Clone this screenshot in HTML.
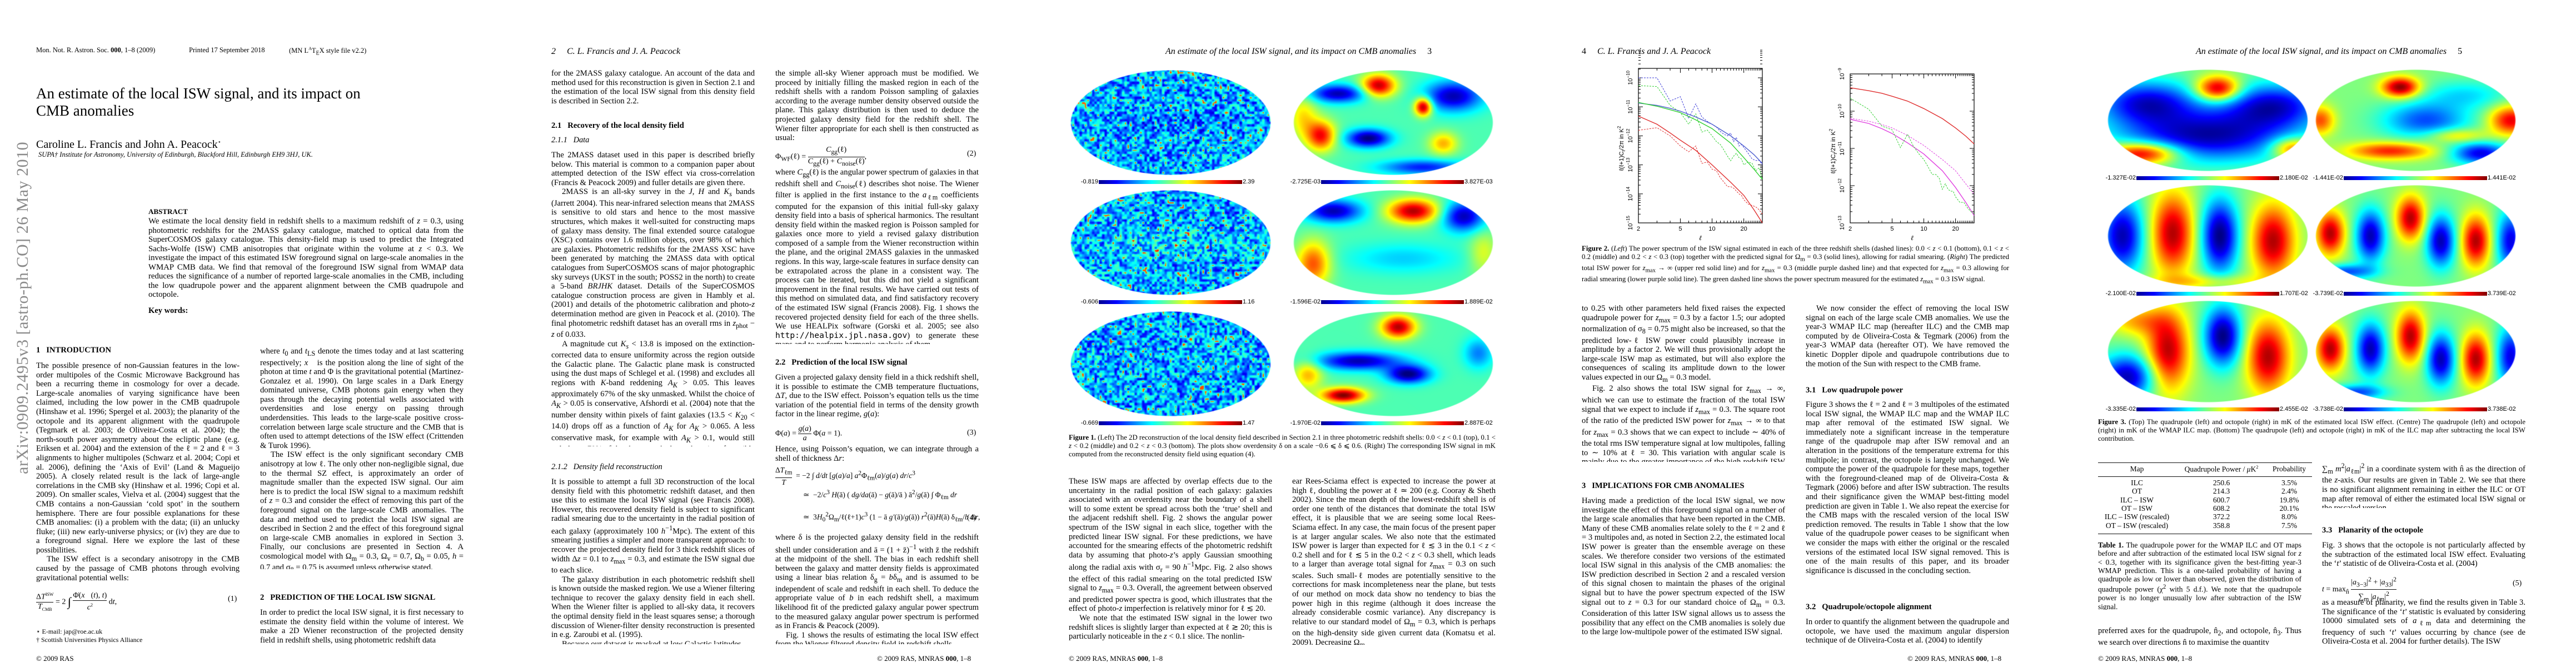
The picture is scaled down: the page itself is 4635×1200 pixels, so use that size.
<!DOCTYPE html>
<html><head><meta charset="utf-8">
<style>
body{margin:0;background:#fff;}
#strip{position:relative;width:4635px;height:1200px;overflow:hidden;background:#fff;color:#000;font-family:"Liberation Serif",serif;}
.pg{position:absolute;top:0;width:927px;height:1200px;}
.abs{position:absolute;white-space:nowrap;}
.col{position:absolute;width:366px;font-size:14.6px;line-height:16.6px;text-align:justify;overflow:hidden;hyphens:auto;}
.col p{margin:0;text-indent:1.3em;}
.col p.ni{text-indent:0;}
.head{position:absolute;font-style:italic;font-size:16px;white-space:nowrap;}
.sec{position:absolute;font-weight:bold;font-size:14.6px;white-space:nowrap;}
.sub{position:absolute;font-style:italic;font-size:14.4px;white-space:nowrap;}
.foot{position:absolute;font-size:13px;white-space:nowrap;}
.cap{position:absolute;font-size:12.8px;line-height:15.2px;text-align:justify;overflow:hidden;}
.bar{position:absolute;height:7px;background:linear-gradient(to right,#00008f,#0000ff 12%,#00ffff 37%,#ffff00 62%,#ff0000 87%,#800000);}
.bl{position:absolute;font-family:"Liberation Sans",sans-serif;font-size:11px;white-space:nowrap;line-height:12px;}
.eq{position:absolute;font-size:14px;white-space:nowrap;}
</style></head><body>
<div id="strip">

<!-- PAGE 1 -->
<div class="pg" style="left:0">
  <div class="abs" style="left:65px;top:83px;font-size:12.5px">Mon. Not. R. Astron. Soc. <b>000</b>, 1–8 (2009)</div>
  <div class="abs" style="left:340px;top:83px;font-size:12.5px">Printed 17 September 2018</div>
  <div class="abs" style="left:520px;top:83px;font-size:12.5px">(MN L<sup style="font-size:8px">A</sup>T<sub style="font-size:10px">E</sub>X style file v2.2)</div>
  <div class="abs" style="left:65px;top:153px;font-size:27px;line-height:31px">An estimate of the local ISW signal, and its impact on<br>CMB anomalies</div>
  <div class="abs" style="left:65px;top:249px;font-size:20px">Caroline L. Francis and John A. Peacock<sup style="font-size:10px">⋆</sup></div>
  <div class="abs" style="left:69px;top:271px;font-size:12.5px;font-style:italic">SUPA† Institute for Astronomy, University of Edinburgh, Blackford Hill, Edinburgh EH9 3HJ, UK.</div>
  <div class="abs" style="left:24px;top:853px;font-size:30px;color:#8a8a8a;transform:rotate(-90deg);transform-origin:0 0;letter-spacing:0.5px">arXiv:0909.2495v3  [astro-ph.CO]  26 May 2010</div>
  <div class="abs" style="left:267px;top:373px;font-size:13px;font-weight:bold">ABSTRACT</div>
  <div class="col" style="left:267px;top:390px;width:567px;height:150px;font-size:14.8px;line-height:16.5px"><p class="ni">We estimate the local density field in redshift shells to a maximum redshift of <i>z</i> = 0.3, using photometric redshifts for the 2MASS galaxy catalogue, matched to optical data from the SuperCOSMOS galaxy catalogue. This density-field map is used to predict the Integrated Sachs-Wolfe (ISW) CMB anisotropies that originate within the volume at <i>z</i> &lt; 0.3. We investigate the impact of this estimated ISW foreground signal on large-scale anomalies in the WMAP CMB data. We find that removal of the foreground ISW signal from WMAP data reduces the significance of a number of reported large-scale anomalies in the CMB, including the low quadrupole power and the apparent alignment between the CMB quadrupole and octopole.</p></div>
  <div class="abs" style="left:267px;top:551px;font-size:14.5px;font-weight:bold">Key words:</div>
  <div class="sec" style="left:65px;top:622px">1&nbsp;&nbsp;&nbsp;INTRODUCTION</div>
  <div class="col" style="left:65px;top:650px;height:400px"><p class="ni">The possible presence of non-Gaussian features in the low-order multipoles of the Cosmic Microwave Background has been a recurring theme in cosmology for over a decade. Large-scale anomalies of varying significance have been claimed, including the low power in the CMB quadrupole (Hinshaw et al. 1996; Spergel et al. 2003); the planarity of the octopole and its apparent alignment with the quadrupole (Tegmark et al. 2003; de Oliveira-Costa et al. 2004); the north-south power asymmetry about the ecliptic plane (e.g. Eriksen et al. 2004) and the extension of the ℓ = 2 and ℓ = 3 alignments to higher multipoles (Schwarz et al. 2004; Copi et al. 2006), defining the ‘Axis of Evil’ (Land &amp; Magueijo 2005). A closely related result is the lack of large-angle correlations in the CMB sky (Hinshaw et al. 1996; Copi et al. 2009). On smaller scales, Vielva et al. (2004) suggest that the CMB contains a non-Gaussian ‘cold spot’ in the southern hemisphere. There are four possible explanations for these CMB anomalies: (i) a problem with the data; (ii) an unlucky fluke; (iii) new early-universe physics; or (iv) they are due to a foreground signal. Here we explore the last of these possibilities.</p><p>The ISW effect is a secondary anisotropy in the CMB caused by the passage of CMB photons through evolving gravitational potential wells:</p></div>
  <div class="eq" style="left:65px;top:1062px"><span style="display:inline-block;text-align:center;vertical-align:middle;line-height:16px"><span style="border-bottom:1px solid #111;display:block">Δ<i>T</i><sup style="font-size:8px">ISW</sup></span><i>T</i><sub style="font-size:8px">CMB</sub></span> = 2 <span style="font-size:22px;vertical-align:middle">∫</span> <span style="display:inline-block;text-align:center;vertical-align:middle;line-height:16px"><span style="border-bottom:1px solid #111;display:block">Φ̇(<i>x⃗</i>(<i>t</i>), <i>t</i>)</span><i>c</i><sup style="font-size:8px">2</sup></span> d<i>t</i>,</div>
  <div class="eq" style="left:410px;top:1070px">(1)</div>
  <div class="abs" style="left:65px;top:1129px;font-size:12px">⋆ E-mail: jap@roe.ac.uk</div>
  <div class="abs" style="left:65px;top:1144px;font-size:12px">† Scottish Universities Physics Alliance</div>
  <div class="foot" style="left:65px;top:1177px">© 2009 RAS</div>
  <div class="col" style="left:468px;top:624px;height:400px"><p class="ni">where <i>t</i><sub>0</sub> and <i>t</i><sub>LS</sub> denote the times today and at last scattering respectively; <i>x⃗</i> is the position along the line of sight of the photon at time <i>t</i> and Φ is the gravitational potential (Martinez-Gonzalez et al. 1990). On large scales in a Dark Energy dominated universe, CMB photons gain energy when they pass through the decaying potential wells associated with overdensities and lose energy on passing through underdensities. This leads to the large-scale positive cross-correlation between large scale structure and the CMB that is often used to attempt detections of the ISW effect (Crittenden &amp; Turok 1996).</p><p>The ISW effect is the only significant secondary CMB anisotropy at low ℓ. The only other non-negligible signal, due to the thermal SZ effect, is approximately an order of magnitude smaller than the expected ISW signal. Our aim here is to predict the local ISW signal to a maximum redshift of <i>z</i> = 0.3 and consider the effect of removing this part of the foreground signal on the large-scale CMB anomalies. The data and method used to predict the local ISW signal are described in Section 2 and the effect of this foreground signal on large-scale CMB anomalies in explored in Section 3. Finally, our conclusions are presented in Section 4. A cosmological model with Ω<sub>m</sub> = 0.3, Ω<sub>v</sub> = 0.7, Ω<sub>b</sub> = 0.05, <i>h</i> = 0.7 and σ<sub>8</sub> = 0.75 is assumed unless otherwise stated.</p></div>
  <div class="sec" style="left:468px;top:1067px">2&nbsp;&nbsp;&nbsp;PREDICTION OF THE LOCAL ISW SIGNAL</div>
  <div class="col" style="left:468px;top:1094px;height:67px"><p class="ni">In order to predict the local ISW signal, it is first necessary to estimate the density field within the volume of interest. We make a 2D Wiener reconstruction of the projected density field in redshift shells, using photometric redshift data</p></div>
</div>

<!-- PAGE 2 -->
<div class="pg" style="left:927px">
  <div class="head" style="left:65px;top:84px">2&nbsp;&nbsp;&nbsp;&nbsp;&nbsp;C. L. Francis and J. A. Peacock</div>
  <div class="col" style="left:65px;top:124px;height:67px"><p class="ni">for the 2MASS galaxy catalogue. An account of the data and method used for this reconstruction is given in Section 2.1 and the estimation of the local ISW signal from this density field is described in Section 2.2.</p></div>
  <div class="sec" style="left:65px;top:218px">2.1&nbsp;&nbsp;&nbsp;Recovery of the local density field</div>
  <div class="sub" style="left:65px;top:244px">2.1.1&nbsp;&nbsp;&nbsp;Data</div>
  <div class="col" style="left:65px;top:271px;height:532px"><p class="ni">The 2MASS dataset used in this paper is described briefly below. This material is common to a companion paper about attempted detection of the ISW effect via cross-correlation (Francis &amp; Peacock 2009) and fuller details are given there.</p><p>2MASS is an all-sky survey in the <i>J</i>, <i>H</i> and <i>K<sub>s</sub></i> bands (Jarrett 2004). This near-infrared selection means that 2MASS is sensitive to old stars and hence to the most massive structures, which makes it well-suited for constructing maps of galaxy mass density. The final extended source catalogue (XSC) contains over 1.6 million objects, over 98% of which are galaxies. Photometric redshifts for the 2MASS XSC have been generated by matching the 2MASS data with optical catalogues from SuperCOSMOS scans of major photographic sky surveys (UKST in the south; POSS2 in the north) to create a 5-band <i>BRJHK</i> dataset. Details of the SuperCOSMOS catalogue construction process are given in Hambly et al. (2001) and details of the photometric calibration and photo-<i>z</i> determination method are given in Peacock et al. (2010). The final photometric redshift dataset has an overall rms in <i>z</i><sub>phot</sub> − <i>z</i> of 0.033.</p><p>A magnitude cut <i>K<sub>s</sub></i> &lt; 13.8 is imposed on the extinction-corrected data to ensure uniformity across the region outside the Galactic plane. The Galactic plane mask is constructed using the dust maps of Schlegel et al. (1998) and excludes all regions with <i>K</i>-band reddening <i>A<sub>K</sub></i> &gt; 0.05. This leaves approximately 67% of the sky unmasked. Whilst the choice of <i>A<sub>K</sub></i> &gt; 0.05 is conservative, Afshordi et al. (2004) note that the number density within pixels of faint galaxies (13.5 &lt; <i>K</i><sub>20</sub> &lt; 14.0) drops off as a function of <i>A<sub>K</sub></i> for <i>A<sub>K</sub></i> &gt; 0.065. A less conservative mask, for example with <i>A<sub>K</sub></i> &gt; 0.1, would still only leave 79% of the sky unmasked – at the price of possible incompleteness issues in the analysis.</p></div>
  <div class="sub" style="left:65px;top:832px">2.1.2&nbsp;&nbsp;&nbsp;Density field reconstruction</div>
  <div class="col" style="left:65px;top:859px;height:300px"><p class="ni">It is possible to attempt a full 3D reconstruction of the local density field with this photometric redshift dataset, and then use this to estimate the local ISW signal (see Francis 2008). However, this recovered density field is subject to significant radial smearing due to the uncertainty in the radial position of each galaxy (approximately 100 <i>h</i><sup>−1</sup>Mpc). The extent of this smearing justifies a simpler and more transparent approach: to recover the projected density field for 3 thick redshift slices of width Δ<i>z</i> = 0.1 to <i>z</i><sub>max</sub> = 0.3, and estimate the ISW signal due to each slice.</p><p>The galaxy distribution in each photometric redshift shell is known outside the masked region. We use a Wiener filtering technique to recover the galaxy density field in each shell. When the Wiener filter is applied to all-sky data, it recovers the optimal density field in the least squares sense; a thorough discussion of Wiener-filter density reconstruction is presented in e.g. Zaroubi et al. (1995).</p><p>Because our dataset is masked at low Galactic latitudes,</p></div>
  <div class="col" style="left:468px;top:124px;height:134px"><p class="ni">the simple all-sky Wiener approach must be modified. We proceed by initially filling the masked region in each of the redshift shells with a random Poisson sampling of galaxies according to the average number density observed outside the plane. This galaxy distribution is then used to deduce the projected galaxy density field for the redshift shell. The Wiener filter appropriate for each shell is then constructed as usual:</p></div>
  <div class="eq" style="left:468px;top:262px">Φ<sub>WF</sub>(ℓ) = <span style="display:inline-block;text-align:center;vertical-align:middle;line-height:16px"><span style="border-bottom:1px solid #111;display:block"><i>C</i><sub>gg</sub>(ℓ)</span><i>C</i><sub>gg</sub>(ℓ) + <i>C</i><sub>noise</sub>(ℓ)</span>,</div>
  <div class="eq" style="left:813px;top:269px">(2)</div>
  <div class="col" style="left:468px;top:302px;height:317px"><p class="ni">where <i>C</i><sub>gg</sub>(ℓ) is the angular power spectrum of galaxies in that redshift shell and <i>C</i><sub>noise</sub>(ℓ) describes shot noise. The Wiener filter is applied in the first instance to the <i>a</i><sub>ℓm</sub> coefficients computed for the expansion of this initial full-sky galaxy density field into a basis of spherical harmonics. The resultant density field within the masked region is Poisson sampled for galaxies once more to yield a revised galaxy distribution composed of a sample from the Wiener reconstruction within the plane, and the original 2MASS galaxies in the unmasked regions. In this way, large-scale features in surface density can be extrapolated across the plane in a consistent way. The process can be iterated, but this did not yield a significant improvement in the final results. We have carried out tests of this method on simulated data, and find satisfactory recovery of the estimated ISW signal (Francis 2008). Fig. 1 shows the recovered projected density field for each of the three shells. We use HEALPix software (Gorski et al. 2005; see also <tt>http://healpix.jpl.nasa.gov</tt>) to generate these maps and to perform harmonic analysis of them.</p></div>
  <div class="sec" style="left:468px;top:644px">2.2&nbsp;&nbsp;&nbsp;Prediction of the local ISW signal</div>
  <div class="col" style="left:468px;top:671px;height:84px"><p class="ni">Given a projected galaxy density field in a thick redshift shell, it is possible to estimate the CMB temperature fluctuations, Δ<i>T</i>, due to the ISW effect. Poisson’s equation tells us the time variation of the potential field in terms of the density growth factor in the linear regime, <i>g</i>(<i>a</i>):</p></div>
  <div class="eq" style="left:468px;top:764px">Φ(<i>a</i>) = <span style="display:inline-block;text-align:center;vertical-align:middle;line-height:16px"><span style="border-bottom:1px solid #111;display:block"><i>g</i>(<i>a</i>)</span><i>a</i></span> Φ(<i>a</i> = 1).</div>
  <div class="eq" style="left:813px;top:771px">(3)</div>
  <div class="col" style="left:468px;top:800px;height:34px"><p class="ni">Hence, using Poisson’s equation, we can integrate through a shell of thickness Δ<i>r</i>:</p></div>
  <div class="eq" style="left:468px;top:838px;font-size:13.5px"><span style="display:inline-block;text-align:center;vertical-align:middle;line-height:16px"><span style="border-bottom:1px solid #111;display:block">Δ<i>T</i><sub>ℓm</sub></span><i>T</i></span> &nbsp;= −2 ∫ <i>d/dt</i> [<i>g</i>(<i>a</i>)/<i>a</i>] <i>a</i><sup>2</sup>Φ<sub>ℓm</sub>(<i>a</i>)/<i>g</i>(<i>a</i>) <i>dr</i>/<i>c</i><sup>3</sup></div>
  <div class="eq" style="left:518px;top:880px;font-size:13.5px">≃ &nbsp;−2/<i>c</i><sup>3</sup> <i>H</i>(ā) ( <i>dg/da</i>(ā) − <i>g</i>(ā)/ā ) ā<sup>2</sup>/<i>g</i>(ā) ∫ Φ<sub>ℓm</sub> <i>dr</i></div>
  <div class="eq" style="left:518px;top:920px;font-size:13.5px">≃ &nbsp;3<i>H</i><sub>0</sub><sup>2</sup>Ω<sub>m</sub>/ℓ(ℓ+1)<i>c</i><sup>3</sup> (1 − ā <i>g′</i>(ā)/<i>g</i>(ā)) <i>r</i><sup>2</sup>(ā)<i>H</i>(ā) δ<sub>ℓm</sub>/<i>b</i> Δ<i>r</i>,</div>
  <div class="eq" style="left:813px;top:924px">(4)</div>
  <div class="col" style="left:468px;top:959px;height:200px"><p class="ni">where δ is the projected galaxy density field in the redshift shell under consideration and ā = (1 + z̄)<sup>−1</sup> with z̄ the redshift at the midpoint of the shell. The bias in each redshift shell between the galaxy and matter density fields is approximated using a linear bias relation δ<sub>g</sub> = <i>b</i>δ<sub>m</sub> and is assumed to be independent of scale and redshift in each shell. To deduce the appropriate value of <i>b</i> in each redshift shell, a maximum likelihood fit of the predicted galaxy angular power spectrum to the measured galaxy angular power spectrum is performed as in Francis &amp; Peacock (2009).</p><p>Fig. 1 shows the results of estimating the local ISW effect from the Wiener filtered density field in redshift shells.</p></div>
  <div class="foot" style="left:651px;top:1177px">© 2009 RAS, MNRAS <b>000</b>, 1–8</div>
</div>

<!-- PAGE 3 -->
<div class="pg" style="left:1854px" id="page3">
  <div class="head" style="left:243px;top:84px">An estimate of the local ISW signal, and its impact on CMB anomalies&nbsp;&nbsp;&nbsp;&nbsp;&nbsp;<span style="font-style:normal">3</span></div>
  <div class="cap" style="left:69px;top:780px;width:768px;height:48px"><b>Figure 1.</b> (Left) The 2D reconstruction of the local density field described in Section 2.1 in three photometric redshift shells: 0.0 &lt; <i>z</i> &lt; 0.1 (top), 0.1 &lt; <i>z</i> &lt; 0.2 (middle) and 0.2 &lt; <i>z</i> &lt; 0.3 (bottom). The plots show overdensity δ on a scale −0.6 ⩽ δ ⩽ 0.6. (Right) The corresponding ISW signal in mK computed from the reconstructed density field using equation (4).</div>
  <div class="col" style="left:69px;top:858px;height:302px"><p class="ni">These ISW maps are affected by overlap effects due to the uncertainty in the radial position of each galaxy: galaxies associated with an overdensity near the boundary of a shell will to some extent be spread across both the ‘true’ shell and the adjacent redshift shell. Fig. 2 shows the angular power spectrum of the ISW signal in each slice, together with the predicted linear ISW signal. For these predictions, we have accounted for the smearing effects of the photometric redshift data by assuming that photo-<i>z</i>’s apply Gaussian smoothing along the radial axis with σ<sub>r</sub> = 90 <i>h</i><sup>−1</sup>Mpc. Fig. 2 also shows the effect of this radial smearing on the total predicted ISW signal to <i>z</i><sub>max</sub> = 0.3. Overall, the agreement between observed and predicted power spectra is good, which illustrates that the effect of photo-<i>z</i> imperfection is relatively minor for ℓ ≲ 20.</p><p>We note that the estimated ISW signal in the lower two redshift slices is slightly larger than expected at ℓ ≳ 20; this is particularly noticeable in the <i>z</i> &lt; 0.1 slice. The nonlin-</p></div>
  <div class="col" style="left:471px;top:858px;height:302px"><p class="ni">ear Rees-Sciama effect is expected to increase the power at high ℓ, doubling the power at ℓ ≃ 200 (e.g. Cooray &amp; Sheth 2002). Since the mean depth of the lowest-redshift shell is of order one tenth of the distances that dominate the total ISW effect, it is plausible that we are seeing some local Rees-Sciama effect. In any case, the main focus of the present paper is at larger angular scales. We also note that the estimated ISW power is larger than expected for ℓ ≲ 3 in the 0.1 &lt; <i>z</i> &lt; 0.2 shell and for ℓ ≲ 5 in the 0.2 &lt; <i>z</i> &lt; 0.3 shell, which leads to a larger than average total signal for <i>z</i><sub>max</sub> = 0.3 on such scales. Such small-ℓ modes are potentially sensitive to the corrections for mask incompleteness near the plane, but tests of our method on mock data show no tendency to bias the power high in this regime (although it does increase the already considerable cosmic variance). Any discrepancy is relative to our standard model of Ω<sub>m</sub> = 0.3, which is perhaps on the high-density side given current data (Komatsu et al. 2009). Decreasing Ω<sub>m</sub></p></div>
  <div class="foot" style="left:69px;top:1177px">© 2009 RAS, MNRAS <b>000</b>, 1–8</div>
</div>

<!-- PAGE 4 -->
<div class="pg" style="left:2781px" id="page4">
  <div class="head" style="left:65px;top:84px"><span style="font-style:normal">4</span>&nbsp;&nbsp;&nbsp;&nbsp;&nbsp;C. L. Francis and J. A. Peacock</div>
  <svg id="fig2" width="927" height="440" style="position:absolute;left:0;top:0"></svg>
  <div class="cap" style="left:65px;top:440px;width:769px;height:77px"><b>Figure 2.</b> (<i>Left</i>) The power spectrum of the ISW signal estimated in each of the three redshift shells (dashed lines): 0.0 &lt; <i>z</i> &lt; 0.1 (bottom), 0.1 &lt; <i>z</i> &lt; 0.2 (middle) and 0.2 &lt; <i>z</i> &lt; 0.3 (top) together with the predicted signal for Ω<sub>m</sub> = 0.3 (solid lines), allowing for radial smearing. (<i>Right</i>) The predicted total ISW power for <i>z</i><sub>max</sub> → ∞ (upper red solid line) and for <i>z</i><sub>max</sub> = 0.3 (middle purple dashed line) and that expected for <i>z</i><sub>max</sub> = 0.3 allowing for radial smearing (lower purple solid line). The green dashed line shows the power spectrum measured for the estimated <i>z</i><sub>max</sub> = 0.3 ISW signal.</div>
  <div class="col" style="left:65px;top:547px;height:284px"><p class="ni">to 0.25 with other parameters held fixed raises the expected quadrupole power for <i>z</i><sub>max</sub> = 0.3 by a factor 1.5; our adopted normalization of σ<sub>8</sub> = 0.75 might also be increased, so that the predicted low-ℓ ISW power could plausibly increase in amplitude by a factor 2. We will thus provisionally adopt the large-scale ISW map as estimated, but will also explore the consequences of scaling its amplitude down to the lower values expected in our Ω<sub>m</sub> = 0.3 model.</p><p>Fig. 2 also shows the total ISW signal for <i>z</i><sub>max</sub> → ∞, which we can use to estimate the fraction of the total ISW signal that we expect to include if <i>z</i><sub>max</sub> = 0.3. The square root of the ratio of the predicted ISW power for <i>z</i><sub>max</sub> → ∞ to that for <i>z</i><sub>max</sub> = 0.3 shows that we can expect to include ∼ 40% of the total rms ISW temperature signal at low multipoles, falling to ∼ 10% at ℓ = 30. This variation with angular scale is mainly due to the greater importance of the high redshift ISW signal at large ℓ.</p></div>
  <div class="sec" style="left:65px;top:866px">3&nbsp;&nbsp;&nbsp;IMPLICATIONS FOR CMB ANOMALIES</div>
  <div class="col" style="left:65px;top:893px;height:267px"><p class="ni">Having made a prediction of the local ISW signal, we now investigate the effect of this foreground signal on a number of the large scale anomalies that have been reported in the CMB. Many of these CMB anomalies relate solely to the ℓ = 2 and ℓ = 3 multipoles and, as noted in Section 2.2, the estimated local ISW power is greater than the ensemble average on these scales. We therefore consider two versions of the estimated local ISW signal in this analysis of the CMB anomalies: the ISW prediction described in Section 2 and a rescaled version of this signal chosen to maintain the phases of the original signal but to have the power spectrum expected of the ISW signal out to <i>z</i> = 0.3 for our standard choice of Ω<sub>m</sub> = 0.3. Consideration of this latter ISW signal allows us to assess the possibility that any effect on the CMB anomalies is solely due to the large low-multipole power of the estimated ISW signal.</p></div>
  <div class="col" style="left:468px;top:547px;height:117px"><p>We now consider the effect of removing the local ISW signal on each of the large scale CMB anomalies. We use the year-3 WMAP ILC map (hereafter ILC) and the CMB map computed by de Oliveira-Costa &amp; Tegmark (2006) from the year-3 WMAP data (hereafter OT). We have removed the kinetic Doppler dipole and quadrupole contributions due to the motion of the Sun with respect to the CMB frame.</p></div>
  <div class="sec" style="left:468px;top:694px">3.1&nbsp;&nbsp;&nbsp;Low quadrupole power</div>
  <div class="col" style="left:468px;top:720px;height:333px"><p class="ni">Figure 3 shows the ℓ = 2 and ℓ = 3 multipoles of the estimated local ISW signal, the WMAP ILC map and the WMAP ILC map after removal of the estimated ISW signal. We immediately note a significant increase in the temperature range of the quadrupole map after ISW removal and an alteration in the positions of the temperature extrema for this multipole; in contrast, the octopole is largely unchanged. We compute the power of the quadrupole for these maps, together with the foreground-cleaned map of de Oliveira-Costa &amp; Tegmark (2006) before and after ISW subtraction. The results and their significance given the WMAP best-fitting model prediction are given in Table 1. We also repeat the exercise for the CMB maps with the rescaled version of the local ISW prediction removed. The results in Table 1 show that the low value of the quadrupole power ceases to be significant when we consider the maps with either the original or the rescaled versions of the estimated local ISW signal removed. This is one of the main results of this paper, and its broader significance is discussed in the concluding section.</p></div>
  <div class="sec" style="left:468px;top:1084px">3.2&nbsp;&nbsp;&nbsp;Quadrupole/octopole alignment</div>
  <div class="col" style="left:468px;top:1111px;height:50px"><p class="ni">In order to quantify the alignment between the quadrupole and octopole, we have used the maximum angular dispersion technique of de Oliveira-Costa et al. (2004) to identify</p></div>
  <div class="foot" style="left:651px;top:1177px">© 2009 RAS, MNRAS <b>000</b>, 1–8</div>
</div>

<!-- PAGE 5 -->
<div class="pg" style="left:3708px" id="page5">
  <div class="head" style="left:243px;top:84px">An estimate of the local ISW signal, and its impact on CMB anomalies&nbsp;&nbsp;&nbsp;&nbsp;&nbsp;<span style="font-style:normal">5</span></div>
  <div class="cap" style="left:67px;top:752px;width:769px;height:48px"><b>Figure 3.</b> (Top) The quadrupole (left) and octopole (right) in mK of the estimated local ISW effect. (Centre) The quadrupole (left) and octopole (right) in mK of the WMAP ILC map. (Bottom) The quadrupole (left) and octopole (right) in mK of the ILC map after subtracting the local ISW contribution.</div>
  <div style="position:absolute;left:67px;top:832px;width:385px;border-top:1.5px solid #111"></div>
  <div style="position:absolute;left:67px;top:857px;width:385px;border-top:1px solid #111"></div>
  <div style="position:absolute;left:67px;top:960px;width:385px;border-top:1.5px solid #111"></div>
  <div id="tbl"></div>
  <div class="cap" style="left:67px;top:973px;width:366px;height:124px;font-size:13.4px;line-height:15.3px"><b>Table 1.</b> The quadrupole power for the WMAP ILC and OT maps before and after subtraction of the estimated local ISW signal for <i>z</i> &lt; 0.3, together with its significance given the best-fitting year-3 WMAP prediction. This is a one-tailed probability of having a quadrupole as low or lower than observed, given the distribution of quadrupole power (χ<sup>2</sup> with 5 d.f.). We note that the quadrupole power is no longer unusually low after subtraction of the ISW signal.</div>
  <div class="col" style="left:67px;top:1127px;height:34px"><p class="ni">preferred axes for the quadrupole, n̂<sub>2</sub>, and octopole, n̂<sub>3</sub>. Thus we search over directions n̂ to maximise the quantity</p></div>
  <div class="col" style="left:470px;top:830px;height:84px"><p class="ni">∑<sub>m</sub> <i>m</i><sup>2</sup>|<i>a</i><sub>ℓm</sub>|<sup>2</sup> in a coordinate system with n̂ as the direction of the <i>z</i>-axis. Our results are given in Table 2. We see that there is no significant alignment remaining in either the ILC or OT map after removal of either the estimated local ISW signal or the rescaled version.</p></div>
  <div class="sec" style="left:470px;top:946px">3.3&nbsp;&nbsp;&nbsp;Planarity of the octopole</div>
  <div class="col" style="left:470px;top:973px;height:50px"><p class="ni">Fig. 3 shows that the octopole is not particularly affected by the subtraction of the estimated local ISW effect. Evaluating the ‘<i>t</i>’ statistic of de Oliveira-Costa et al. (2004)</p></div>
  <div class="eq" style="left:470px;top:1035px"><i>t</i> = max<sub>n̂</sub> <span style="display:inline-block;text-align:center;vertical-align:middle;line-height:16px"><span style="border-bottom:1px solid #111;display:block">|<i>a</i><sub>3−3</sub>|<sup>2</sup> + |<i>a</i><sub>33</sub>|<sup>2</sup></span>∑<sub>m</sub> |<i>a</i><sub>ℓm</sub>|<sup>2</sup></span></div>
  <div class="eq" style="left:813px;top:1042px">(5)</div>
  <div class="col" style="left:470px;top:1076px;height:85px"><p class="ni">as a measure of planarity, we find the results given in Table 3. The significance of the ‘<i>t</i>’ statistic is evaluated by considering 10000 simulated sets of <i>a</i><sub>ℓm</sub> data and determining the frequency of such ‘<i>t</i>’ values occurring by chance (see de Oliveira-Costa et al. 2004 for further details). The ISW</p></div>
  <div class="foot" style="left:67px;top:1177px">© 2009 RAS, MNRAS <b>000</b>, 1–8</div>
</div>
</div>

<script>
// ---------- Figure 2 data (log10 of l(l+1)C_l/2pi in K^2) ----------
const ells = [2,3,4,5,6,7,8,9,10,11,12,13,14,15,16,17,18,19,20,22,24,26,28,30];
const ellsSmooth = [2,3,4,5,7,10,15,20,25,30];
const leftBlueDashed  = [-10.0,-10.0,-10.8,-10.65,-11.4,-10.9,-11.35,-11.5,-11.6,-11.7,-11.85,-11.95,-12.0,-11.9,-12.2,-12.05,-12.35,-12.3,-12.4,-12.6,-12.8,-12.85,-12.85,-13.0];
const leftGreenDashed = [-10.27,-10.3,-10.95,-11.2,-11.6,-11.24,-11.87,-11.8,-12.0,-12.2,-12.3,-12.5,-12.7,-12.86,-12.7,-12.6,-12.75,-12.8,-13.0,-12.9,-12.95,-13.2,-13.1,-13.5];
const leftRedDashed   = [-11.81,-11.72,-12.0,-12.35,-12.55,-12.35,-12.95,-12.9,-13.15,-13.2,-13.45,-13.6,-13.75,-13.75,-13.8,-13.9,-14.0,-14.05,-14.2,-14.35,-14.4,-14.45,-14.55,-14.7];
const leftBlueSolid   = [-10.87,-10.95,-11.05,-11.15,-11.35,-11.6,-12.0,-12.35,-12.65,-12.95];
const leftGreenSolid  = [-10.85,-10.98,-11.1,-11.2,-11.45,-11.75,-12.25,-12.75,-13.15,-13.5];
const leftRedSolid    = [-11.32,-11.6,-11.9,-12.15,-12.5,-13.0,-13.6,-14.05,-14.55,-15.0];
const rightRedSolid   = [-9.37,-9.45,-9.52,-9.6,-9.73,-9.93,-10.2,-10.45,-10.67,-10.88];
const rightMagDashed  = [-10.19,-10.27,-10.36,-10.45,-10.65,-10.92,-11.3,-11.6,-11.95,-12.23];
const rightMagSolid   = [-10.22,-10.33,-10.47,-10.6,-10.85,-11.15,-11.6,-12.05,-12.45,-12.8];
const rightGreenDashed= [-9.65,-9.95,-10.4,-10.5,-10.98,-10.62,-10.95,-11.15,-11.3,-11.5,-11.7,-11.7,-11.8,-12.1,-11.95,-12.1,-12.15,-12.15,-12.3,-12.45,-12.45,-12.6,-12.7,-12.75];
const xTickLabels = [2,5,10,20];
const leftYDecades = [-15,-14,-13,-12,-11,-10];
const rightYDecades = [-13,-12,-11,-10,-9];

// ---------- Table 1 data ----------
const tableMaps  = ["ILC","OT","ILC – ISW","OT – ISW","ILC – ISW (rescaled)","OT – ISW (rescaled)"];
const tablePower = ["250.6","214.3","600.7","608.2","372.2","358.8"];
const tableProb  = ["3.5%","2.4%","19.8%","20.1%","8.0%","7.5%"];

const NS="http://www.w3.org/2000/svg";
const svg=document.getElementById('fig2');
function mk(tag,attrs,parent){const e=document.createElementNS(NS,tag);for(const k in attrs)e.setAttribute(k,attrs[k]);(parent||svg).appendChild(e);return e;}

function makePanel(name,x0,x1,yTop,yBot,lgMin,lgMax,decades,ylabX,titleX){
  const lx0=Math.log10(2),lx1=Math.log10(30);
  const X=l=>x0+(Math.log10(l)-lx0)/(lx1-lx0)*(x1-x0);
  const Y=g=>yBot-(g-lgMin)/(lgMax-lgMin)*(yBot-yTop);
  const frame=mk('rect',{x:x0,y:yTop,width:x1-x0,height:yBot-yTop,fill:'none',stroke:'#000','stroke-width':1.2});
  
  
  for(let l=2;l<=30;l++){
    const major=xTickLabels.includes(l);
    const len=major?8:4;
    mk('line',{x1:X(l),x2:X(l),y1:yBot,y2:yBot-len,stroke:'#000','stroke-width':1});
    mk('line',{x1:X(l),x2:X(l),y1:yTop,y2:yTop+len,stroke:'#000','stroke-width':1});
  }
  xTickLabels.forEach(l=>{
    const t=mk('text',{x:X(l),y:yBot+14,'font-family':'Liberation Sans, sans-serif','font-size':11,'text-anchor':'middle'});
    t.textContent=String(l);
    
    
  });
  const xt=mk('text',{x:(x0+x1)/2,y:yBot+31,'font-family':'Liberation Serif, serif','font-size':12,'font-style':'italic','text-anchor':'middle'});
  xt.textContent='ℓ';
  
  
  for(let d=lgMin; d<lgMax; d++){
    for(let m=1;m<10;m++){
      const g=d+Math.log10(m); const yy=Y(g); const len=m===1?8:4;
      mk('line',{x1:x0,x2:x0+len,y1:yy,y2:yy,stroke:'#000','stroke-width':1});
      mk('line',{x1:x1,x2:x1-len,y1:yy,y2:yy,stroke:'#000','stroke-width':1});
    }
  }
  decades.forEach(d=>{
    const yy=Y(d);
    const t=mk('text',{transform:`translate(${ylabX},${yy}) rotate(-90)`,'font-family':'Liberation Sans, sans-serif','font-size':11,'text-anchor':'middle'});
    t.textContent='10';
    const s=mk('tspan',{dy:-5,'font-size':8},t); s.textContent='−'+String(-d);
    
    
  });
  const yt=mk('text',{transform:`translate(${titleX},${(yTop+yBot)/2+5}) rotate(-90)`,'font-family':'Liberation Sans, sans-serif','font-size':11,'text-anchor':'middle'});
  yt.textContent='ℓ(ℓ+1)C';
  const sb=mk('tspan',{dy:3,'font-size':8},yt); sb.textContent='ℓ';
  const rest=mk('tspan',{dy:-3},yt); rest.textContent='/2π  in K';
  const sp=mk('tspan',{dy:-5,'font-size':8},yt); sp.textContent='2';
  
  
  return {X,Y};
}
function series(ax,xs,ys,color,dashed,nm){
  const d=xs.map((l,i)=>(i?'L':'M')+ax.X(l).toFixed(2)+','+ax.Y(ys[i]).toFixed(2)).join(' ');
  const p=mk('path',{d:d,fill:'none',stroke:color,'stroke-width':dashed?1:1.4,'stroke-dasharray':dashed?'3,2':'none'});
  
  
}
const axL=makePanel('left-plot',167,390,123,401,-15,-9.675,leftYDecades,156,140);
series(axL,ells,leftBlueDashed,'#3a3ad8',true,'left-blue-dashed');
series(axL,ells,leftGreenDashed,'#30d030',true,'left-green-dashed');
series(axL,ells,leftRedDashed,'#e03030',true,'left-red-dashed');
series(axL,ellsSmooth,leftBlueSolid,'#5060d0',false,'left-blue-solid');
series(axL,ellsSmooth,leftGreenSolid,'#30d030',false,'left-green-solid');
series(axL,ellsSmooth,leftRedSolid,'#e03030',false,'left-red-solid');
const axR=makePanel('right-plot',548,771,133,401,-13,-9,rightYDecades,537,521);
series(axR,ellsSmooth,rightRedSolid,'#e03030',false,'right-red-solid');
series(axR,ellsSmooth,rightMagDashed,'#e040e0',true,'right-magenta-dashed');
series(axR,ellsSmooth,rightMagSolid,'#e040e0',false,'right-magenta-solid');
series(axR,ells,rightGreenDashed,'#30d030',true,'right-green-dashed');

// ---------- Table 1 ----------
function cell(txt,cx,cy,nm,fs){
  const d=document.createElement('div');
  d.className='abs';
  d.style.cssText=`left:${cx}px;top:${cy-9}px;transform:translateX(-50%);font-size:${fs||13.5}px`;
  d.innerHTML=txt;
  
  
  document.getElementById('page5').appendChild(d);
}
cell('Map',137,845,'table-header-map');
cell('Quadrupole Power / <i>μ</i>K<sup style="font-size:8px">2</sup>',289,845,'table-header-power');
cell('Probability',411,845,'table-header-probability');
tableMaps.forEach((m,i)=>{
  const y=870+i*15.3;
  cell(m,137,y,'table-map-cell');
  cell(tablePower[i],289,y,'table-power-cell');
  cell(tableProb[i],411,y,'table-probability-cell');
});

// ---------- Sky maps (image textures) ----------
function jet(v){v=Math.max(0,Math.min(1,v));const c=x=>Math.max(0,Math.min(1,x));
  return [c(1.5-Math.abs(4*v-3))*255,c(1.5-Math.abs(4*v-2))*255,c(1.5-Math.abs(4*v-1))*255];}
function hash(i,j,s){const h=Math.sin(i*127.1+j*311.7+s*74.7)*43758.5453;return h-Math.floor(h);}
function noiseAt(x,y,s){const cs=4.5;const gx=x/cs,gy=y/cs,i=Math.floor(gx),j=Math.floor(gy),fx=gx-i,fy=gy-j;
  const a=hash(i,j,s),b=hash(i+1,j,s),c=hash(i,j+1,s),d=hash(i+1,j+1,s);
  const sx=fx*fx*(3-2*fx),sy=fy*fy*(3-2*fy);
  return (a*(1-sx)+b*sx)*(1-sy)+(c*(1-sx)+d*sx)*sy;}
function drawMap(page,name,x,y,w,h,base,blobs,noisy,seed){
  const cv=document.createElement('canvas');cv.width=w;cv.height=h;
  cv.style.cssText=`position:absolute;left:${x}px;top:${y}px;`;
  
  
  document.getElementById(page).appendChild(cv);
  const ctx=cv.getContext('2d');const img=ctx.createImageData(w,h);
  for(let py=0;py<h;py++)for(let px=0;px<w;px++){
    const u=(px+0.5)/w*2-1,v=(py+0.5)/h*2-1;const r=u*u+v*v;if(r>1)continue;
    let val=base;
    for(const b of blobs){const du=(u-b[0])/b[2],dv=(v-b[1])/b[3];val+=b[4]*Math.exp(-0.5*(du*du+dv*dv));}
    if(noisy){const n=noiseAt(px,py,seed);val+=0.42*(n-0.5)+(n>0.9?0.3:0);}
    const c=jet(val);const k=(py*w+px)*4;
    const edge=Math.min(1,(1-Math.sqrt(r))*Math.min(w,h)/2);
    img.data[k]=c[0];img.data[k+1]=c[1];img.data[k+2]=c[2];img.data[k+3]=255*edge;
  }
  ctx.putImageData(img,0,0);
}
function colorbar(page,name,x0,x1,y,lo,hi){
  const pg=document.getElementById(page);
  const b=document.createElement('div');b.className='bar';b.style.cssText=`left:${x0}px;top:${y-3.5}px;width:${x1-x0}px`;
  
  
  pg.appendChild(b);
  const l=document.createElement('div');l.className='bl';l.textContent=lo;l.style.cssText=`right:${927-x0+1}px;top:${y-6}px`;
  
  
  pg.appendChild(l);
  const r=document.createElement('div');r.className='bl';r.textContent=hi;r.style.cssText=`left:${x1+1}px;top:${y-6}px`;
  
  
  pg.appendChild(r);
}
// Page 3 (Figure 1)
const p3tops=[126,342,560];
const p3left=[[[0,0,0.5,0.12,-0.05]],[[0,0,0.5,0.2,0.05]],[[0,0,0.5,0.2,0.0]]];
const p3right=[
 [[-0.15,-0.7,0.12,0.15,0.5],[0.3,-0.3,0.06,0.12,0.55],[-0.55,-0.55,0.2,0.12,-0.4],[0.6,-0.5,0.2,0.2,-0.4],[-0.25,0.3,0.15,0.12,-0.45],[-0.72,0.25,0.1,0.2,0.42],[0.5,0.4,0.1,0.15,0.25],[0.3,0.85,0.3,0.1,-0.3],[-0.9,-0.1,0.1,0.3,0.2]],
 [[0.2,-0.6,0.18,0.16,0.5],[-0.6,-0.6,0.2,0.15,-0.4],[0.7,-0.5,0.15,0.2,-0.4],[-0.8,0.4,0.12,0.3,0.35],[0.1,0.3,0.4,0.2,-0.12],[0.9,0.2,0.1,0.3,0.15]],
 [[0.05,-0.7,0.12,0.15,0.5],[-0.35,-0.05,0.3,0.12,-0.4],[0.15,0.2,0.15,0.12,-0.45],[-0.5,0.6,0.15,0.1,0.55],[-0.85,0.2,0.1,0.2,0.25],[0.85,-0.2,0.1,0.2,-0.2]]];
const p3bars=[["-0.819","2.39","-2.725E-03","3.827E-03"],["-0.606","1.16","-1.596E-02","1.889E-02"],["-0.669","1.47","-1.970E-02","2.887E-02"]];
for(let i=0;i<3;i++){
  drawMap('page3','density-map-shell-'+(i+1),72,p3tops[i],361,189,0.3,p3left[i],true,i+1);
  drawMap('page3','isw-map-shell-'+(i+1),473,p3tops[i],360,189,0.45,p3right[i],false,0);
  colorbar('page3','density-colorbar-'+(i+1),123,381,p3tops[i]+201,p3bars[i][0],p3bars[i][1]);
  colorbar('page3','isw-colorbar-'+(i+1),523,780,p3tops[i]+201,p3bars[i][2],p3bars[i][3]);
}
// Page 5 (Figure 3)
const p5tops=[125,333,541];
const p5left=[
 [[0.0,0.3,0.6,0.35,-0.45],[-0.6,-0.35,0.35,0.3,-0.4],[0.65,-0.3,0.35,0.3,-0.4],[0.1,-0.62,0.15,0.17,0.5],[-0.65,0.65,0.25,0.15,0.5],[0.85,0.55,0.15,0.15,0.35]],
 [[-0.85,0,0.15,0.5,-0.45],[-0.35,-0.05,0.15,0.55,0.45],[0.12,0,0.13,0.5,-0.5],[0.65,0.1,0.15,0.5,0.45],[0,0.9,0.4,0.1,0.15]],
 [[-0.8,0.5,0.2,0.3,-0.45],[-0.4,0,0.15,0.55,0.45],[0.15,-0.3,0.13,0.4,-0.5],[0.6,0.1,0.15,0.5,0.45],[-0.7,-0.6,0.2,0.2,0.2]]];
const p5right=[
 [[-0.15,-0.65,0.13,0.14,0.5],[0.1,0.0,0.3,0.25,-0.3],[0.95,0.0,0.15,0.2,0.4],[-0.95,0.0,0.1,0.2,0.3],[-0.25,0.6,0.3,0.12,0.35],[0.65,0.65,0.2,0.15,-0.4],[0.5,-0.5,0.3,0.2,-0.15],[0.4,0.3,0.2,0.1,0.2]],
 [[-0.85,-0.05,0.1,0.3,0.45],[-0.45,0,0.1,0.35,-0.45],[-0.05,-0.35,0.1,0.3,0.45],[0.25,0.1,0.1,0.35,-0.45],[0.6,0.1,0.1,0.35,0.45],[0.95,0.1,0.1,0.4,-0.4],[-0.7,0.7,0.2,0.1,-0.3]],
 [[-0.85,-0.05,0.1,0.3,0.45],[-0.45,-0.05,0.1,0.35,-0.45],[-0.05,-0.3,0.1,0.35,0.45],[0.25,0.15,0.1,0.35,-0.45],[0.6,0.15,0.1,0.35,0.45],[0.95,0.1,0.1,0.4,-0.4],[-0.6,0.8,0.2,0.1,-0.3]]];
const p5bars=[["-1.327E-02","2.180E-02","-1.441E-02","1.441E-02"],["-2.100E-02","1.707E-02","-3.739E-02","3.739E-02"],["-3.335E-02","2.455E-02","-3.738E-02","3.738E-02"]];
for(let i=0;i<3;i++){
  drawMap('page5','quadrupole-map-'+(i+1),84,p5tops[i],361,183,0.5,p5left[i],false,0);
  drawMap('page5','octopole-map-'+(i+1),458,p5tops[i],361,183,0.5,p5right[i],false,0);
  colorbar('page5','quadrupole-colorbar-'+(i+1),136,393,p5tops[i]+195,p5bars[i][0],p5bars[i][1]);
  colorbar('page5','octopole-colorbar-'+(i+1),509,767,p5tops[i]+195,p5bars[i][2],p5bars[i][3]);
}
</script>
</body></html>
